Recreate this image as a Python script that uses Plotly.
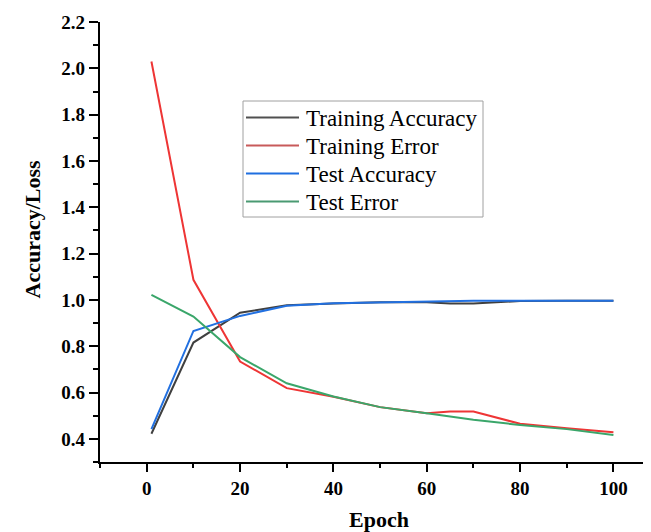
import plotly.graph_objects as go

# ---- data ----
epochs = [1, 10, 20, 30, 40, 50, 60, 65, 70, 80, 90, 100]
train_acc = [0.422, 0.816, 0.945, 0.977, 0.985, 0.990, 0.990, 0.985, 0.985, 0.995, 0.996, 0.997]
train_err = [2.030, 1.087, 0.734, 0.619, 0.582, 0.537, 0.511, 0.518, 0.518, 0.465, 0.446, 0.429]
test_acc = [0.442, 0.866, 0.931, 0.975, 0.986, 0.990, 0.991, 0.996, 0.996, 0.996, 0.997, 0.997]
test_err = [1.022, 0.928, 0.753, 0.640, 0.583, 0.537, 0.511, 0.497, 0.482, 0.460, 0.442, 0.417]

series_names = ["Training Accuracy", "Training Error", "Test Accuracy", "Test Error"]
series_values = [train_acc, train_err, test_acc, test_err]
series_colors = ["#404040", "#ee3535", "#2270e0", "#3aa66a"]
legend_colors = ["#505050", "#c85a5a", "#1f6fe0", "#4a9a72"]

x_ticks = [0, 20, 40, 60, 80, 100]
y_ticks = [0.4, 0.6, 0.8, 1.0, 1.2, 1.4, 1.6, 1.8, 2.0, 2.2]

# page has an 8px body margin; figure is sized to fit inside the window
OFF = 8
W, H = 651 - OFF, 532 - OFF
# plot area in screen pixels: left 100, top 22, bottom 462, right 651
ML, MT = 100 - OFF, 22 - OFF
MB = H - (462 - OFF)
MR = 0
PW, PH = W - ML - MR, H - MT - MB


def px(xs):
    return (xs - OFF - ML) / PW


def py(ys):
    return (H - MB - (ys - OFF)) / PH


fig = go.Figure()
for name, vals, col in zip(series_names, series_values, series_colors):
    fig.add_trace(go.Scatter(x=epochs, y=vals, mode="lines", name=name,
                             line=dict(color=col, width=2), showlegend=False))

tickfont = dict(family="Liberation Serif", size=19, color="black", weight="bold")

fig.update_xaxes(range=[-10.02, 108.05], tickmode="array", tickvals=x_ticks,
                 ticktext=[str(v) for v in x_ticks],
                 showline=True, linecolor="black", linewidth=2.2,
                 ticks="outside", ticklen=8, tickwidth=2, tickcolor="black",
                 minor=dict(dtick=10, tick0=0, ticks="outside", ticklen=4, tickwidth=2, tickcolor="black"),
                 showgrid=False, zeroline=False, tickfont=tickfont)
fig.update_yaxes(range=[0.3, 2.2005], tickmode="array", tickvals=y_ticks,
                 ticktext=["%.1f" % v for v in y_ticks],
                 showline=True, linecolor="black", linewidth=2.2,
                 ticks="outside", ticklen=9, tickwidth=2, tickcolor="black",
                 minor=dict(dtick=0.1, tick0=0.3, ticks="outside", ticklen=5, tickwidth=2, tickcolor="black"),
                 showgrid=False, zeroline=False, tickfont=tickfont)

annotations = [
    dict(text="Accuracy/Loss", xref="paper", yref="paper", x=px(31.5), y=py(229),
         xanchor="center", yanchor="middle", textangle=-90, showarrow=False,
         font=dict(family="Liberation Serif", size=22, color="black", weight="bold")),
    dict(text="Epoch", xref="paper", yref="paper", x=px(379), y=py(519),
         xanchor="center", yanchor="middle", showarrow=False,
         font=dict(family="Liberation Serif", size=22, color="black", weight="bold")),
]

# legend box drawn manually (screen pixel positions from the reference)
shapes = [dict(type="rect", xref="paper", yref="paper", x0=px(243), x1=px(483),
               y0=py(217), y1=py(101), line=dict(color="#a0a0a0", width=1),
               fillcolor="white", layer="above")]
row_y = [117.5, 145.5, 173.5, 201.5]
for name, col, ry in zip(series_names, legend_colors, row_y):
    shapes.append(dict(type="line", xref="paper", yref="paper", x0=px(246), x1=px(299),
                       y0=py(ry), y1=py(ry), line=dict(color=col, width=2), layer="above"))
    annotations.append(dict(text=name, xref="paper", yref="paper", x=px(304), y=py(ry + 1),
                            xanchor="left", yanchor="middle", showarrow=False,
                            font=dict(family="Liberation Serif", size=23, color="black")))

fig.update_layout(width=W, height=H, autosize=False,
                  margin=dict(l=ML, r=MR, t=MT, b=MB),
                  paper_bgcolor="white", plot_bgcolor="white",
                  annotations=annotations, shapes=shapes, showlegend=False)

fig.write_html("out.html")
